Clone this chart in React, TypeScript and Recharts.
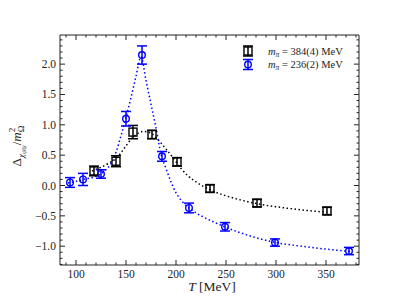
import React from 'react';
import { ComposedChart, Line, Scatter, ErrorBar, XAxis, YAxis, Legend, Label } from 'recharts';

// m_pi = 384(4) MeV (black squares)
const heavyT = [118, 140, 157, 176, 201, 234, 281, 351];
const heavyVal = [0.24, 0.4, 0.88, 0.84, 0.39, -0.05, -0.29, -0.42];
const heavyErr = [0.08, 0.09, 0.11, 0.07, 0.07, 0.06, 0.06, 0.06];

// m_pi = 236(2) MeV (blue circles)
const lightT = [94, 107, 125, 150, 166, 186, 213, 249, 299, 373];
const lightVal = [0.05, 0.1, 0.19, 1.1, 2.15, 0.48, -0.37, -0.68, -0.94, -1.08];
const lightErr = [0.08, 0.1, 0.07, 0.12, 0.15, 0.08, 0.08, 0.07, 0.06, 0.06];

// dotted fit curves
const heavyFitT = [116, 125, 134, 141, 149, 156, 162, 167, 172, 176, 184, 190, 197, 205, 212, 220, 234, 250, 265, 281, 300, 314, 330, 351];
const heavyFitVal = [0.24, 0.3, 0.38, 0.46, 0.63, 0.78, 0.86, 0.89, 0.88, 0.85, 0.72, 0.6, 0.46, 0.28, 0.16, 0.06, -0.07, -0.17, -0.24, -0.3, -0.35, -0.38, -0.41, -0.44];
const lightFitT = [92, 100, 110, 120, 125, 130, 135, 140, 145, 150, 155, 160, 165, 170, 175, 180, 185, 190, 195, 200, 205, 210, 220, 235, 250, 270, 300, 330, 375];
const lightFitVal = [0.04, 0.07, 0.11, 0.15, 0.19, 0.26, 0.36, 0.55, 0.82, 1.12, 1.45, 1.8, 2.12, 1.73, 1.34, 0.95, 0.52, 0.28, 0.06, -0.12, -0.24, -0.33, -0.45, -0.58, -0.69, -0.81, -0.94, -1.01, -1.09];

const legendLabels = ['384(4)', '236(2)'];
const legendColors = ['#000000', '#0000ff'];

const xMajor = [100, 150, 200, 250, 300, 350];
const yMajor = [-1.0, -0.5, 0.0, 0.5, 1.0, 1.5, 2.0];

// minor ticks every 10 MeV / 0.1
const xTicks: number[] = [];
for (let t = 90; t <= 380; t += 10) xTicks.push(t);
const yTicks: number[] = [];
for (let i = -13; i <= 24; i++) yTicks.push(i / 10);

const heavyPts = heavyT.map((t, i) => ({ T: t, y: heavyVal[i], err: heavyErr[i] }));
const lightPts = lightT.map((t, i) => ({ T: t, y: lightVal[i], err: lightErr[i] }));
const heavyFit = heavyFitT.map((t, i) => ({ T: t, v: heavyFitVal[i] }));
const lightFit = lightFitT.map((t, i) => ({ T: t, v: lightFitVal[i] }));

const FONT = '"Liberation Serif", serif';
const INK = '#222';

const isMajor = (list: number[], v: number) => list.some((m) => Math.abs(m - v) < 1e-6);
const fmtY = (v: number) => v.toFixed(1).replace('-', '\u2212');

// ticks point inward, labels only on major ticks
const makeTick = (side: string) => (props: any) => {
  const { x, y, payload } = props;
  const v = payload.value;
  const major = isMajor(side === 'bottom' || side === 'top' ? xMajor : yMajor, v);
  const len = major ? 5 : 2.5;
  let line = null;
  let label = null;
  if (side === 'bottom') {
    line = <line x1={x} x2={x} y1={y} y2={y - len} stroke={INK} />;
    if (major) label = <text x={x} y={y + 12.5} textAnchor="middle" fontSize={11.5} fontFamily={FONT} fill={INK}>{v}</text>;
  } else if (side === 'top') {
    line = <line x1={x} x2={x} y1={y} y2={y + len} stroke={INK} />;
  } else if (side === 'left') {
    line = <line x1={x} x2={x + len} y1={y} y2={y} stroke={INK} />;
    if (major) label = <text x={x - 4} y={y} dy="0.35em" textAnchor="end" fontSize={11.5} fontFamily={FONT} fill={INK}>{fmtY(v)}</text>;
  } else {
    line = <line x1={x} x2={x - len} y1={y} y2={y} stroke={INK} />;
  }
  return <g>{line}{label}</g>;
};

const squareShape = (p: any) => (
  <rect x={p.cx - 4} y={p.cy - 4} width={8} height={8} fill="none" stroke="#000" strokeWidth={1.4} />
);
const circleShape = (p: any) => (
  <circle cx={p.cx} cy={p.cy} r={3.3} fill="none" stroke="#0000ff" strokeWidth={1.4} />
);

const LegendBox = () => (
  <svg width={130} height={32} style={{ display: 'block' }}>
    {legendLabels.map((lab, i) => {
      const cy = 9 + 13.5 * i;
      const c = legendColors[i];
      return (
        <g key={lab}>
          <line x1={10} x2={10} y1={cy - 5} y2={cy + 5} stroke={c} strokeWidth={1.5} />
          <line x1={5} x2={15} y1={cy - 5} y2={cy - 5} stroke={c} strokeWidth={1.5} />
          <line x1={5} x2={15} y1={cy + 5} y2={cy + 5} stroke={c} strokeWidth={1.5} />
          {i === 0 ? (
            <rect x={6} y={cy - 4} width={8} height={8} fill="none" stroke={c} strokeWidth={1.4} />
          ) : (
            <circle cx={10} cy={cy} r={3.3} fill="none" stroke={c} strokeWidth={1.4} />
          )}
          <text x={30} y={cy + 3.5} fontSize={10.5} fontFamily={FONT} fill={INK}>
            <tspan fontStyle="italic">m</tspan>
            <tspan fontStyle="italic" fontSize={7.5} dy={2}>π</tspan>
            <tspan dy={-2}>{` = ${lab} MeV`}</tspan>
          </text>
        </g>
      );
    })}
  </svg>
);

const YLabel = () => (
  <text transform="rotate(-90, 20.5, 146)" x={20.5} y={146} textAnchor="middle" fontSize={13} fontFamily={FONT} fill={INK}>
    <tspan>Δ</tspan>
    <tspan fontSize={9} fontStyle="italic" dy={3}>χ</tspan>
    <tspan fontSize={7} fontStyle="italic" dy={2}>ψ̄ψ</tspan>
    <tspan dy={-5}>/</tspan>
    <tspan fontStyle="italic">m</tspan>
    <tspan fontSize={9} dy={3}>Ω</tspan>
    <tspan fontSize={9} dx={-6.5} dy={-9}>2</tspan>
  </text>
);

const XLabel = () => (
  <text x={212} y={291} textAnchor="middle" fontSize={13.5} fontFamily={FONT} fill={INK}>
    <tspan fontStyle="italic">T</tspan>
    <tspan> [MeV]</tspan>
  </text>
);

const App = () => (
  <div>
    <style>{`body{margin:0;overflow:hidden;background:#fff}`}</style>
    <ComposedChart width={399} height={299} margin={{ top: 34, right: 39, bottom: 4, left: 15 }}>
      <XAxis
        dataKey="T"
        type="number"
        domain={[84, 383]}
        ticks={xTicks}
        interval={0}
        allowDataOverflow
        height={30}
        tickSize={0}
        tickMargin={0}
        tick={makeTick('bottom')}
        axisLine={{ stroke: INK }}
      >
        <Label content={XLabel} />
      </XAxis>
      <XAxis
        xAxisId="top"
        orientation="top"
        dataKey="T"
        type="number"
        domain={[84, 383]}
        ticks={xTicks}
        interval={0}
        allowDataOverflow
        height={1}
        tickSize={0}
        tickMargin={0}
        tick={makeTick('top')}
        axisLine={{ stroke: INK }}
      />
      <YAxis
        type="number"
        domain={[-1.31, 2.48]}
        ticks={yTicks}
        interval={0}
        allowDataOverflow
        width={45}
        tickSize={0}
        tickMargin={0}
        tick={makeTick('left')}
        axisLine={{ stroke: INK }}
      >
        <Label content={YLabel} />
      </YAxis>
      <YAxis
        yAxisId="right"
        orientation="right"
        type="number"
        domain={[-1.31, 2.48]}
        ticks={yTicks}
        interval={0}
        allowDataOverflow
        width={1}
        tickSize={0}
        tickMargin={0}
        tick={makeTick('right')}
        axisLine={{ stroke: INK }}
      />
      <Legend
        layout="horizontal"
        verticalAlign="middle"
        align="center"
        wrapperStyle={{ top: 42, left: 238, width: 130, height: 32 }}
        content={() => <LegendBox />}
      />
      <Line data={heavyFit} dataKey="v" type="monotone" stroke="#000" strokeWidth={1.5} strokeDasharray="1.5 2.5" dot={false} activeDot={false} isAnimationActive={false} />
      <Line data={lightFit} dataKey="v" type="monotone" stroke="#0000ff" strokeWidth={1.5} strokeDasharray="1.5 2.5" dot={false} activeDot={false} isAnimationActive={false} />
      <Scatter data={heavyPts} dataKey="y" shape={squareShape} isAnimationActive={false}>
        <ErrorBar dataKey="err" direction="y" width={5} stroke="#000" strokeWidth={1.5} />
      </Scatter>
      <Scatter data={lightPts} dataKey="y" shape={circleShape} isAnimationActive={false}>
        <ErrorBar dataKey="err" direction="y" width={5} stroke="#0000ff" strokeWidth={1.5} />
      </Scatter>
    </ComposedChart>
  </div>
);

export default App;
